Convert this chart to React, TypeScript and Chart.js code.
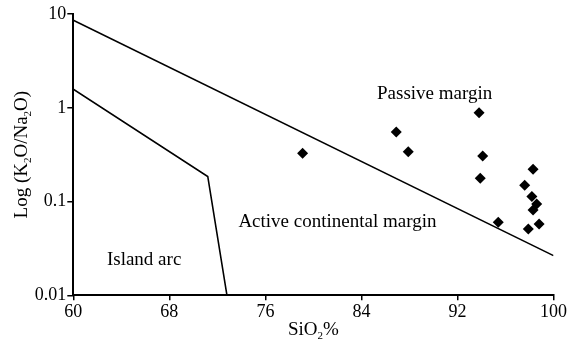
import React, { useEffect, useRef } from 'react';
import { Chart, registerables } from 'chart.js';

Chart.register(...registerables);

const xTicks = [60, 68, 76, 84, 92, 100];
const yTicks = [0.01, 0.1, 1, 10];
const yTickLabels = ['0.01', '0.1', '1', '10'];

const upperLineX = [60, 100];
const upperLineY = [8.6, 0.0265];
const lowerLineX = [60, 71.2, 72.8];
const lowerLineY = [1.58, 0.185, 0.01];

const sampleSiO2 = [79.1, 86.9, 87.9, 93.8, 94.1, 93.9, 95.4, 98.3, 97.6, 98.2, 98.6, 98.3, 97.9, 98.8];
const sampleRatio = [0.327, 0.552, 0.34, 0.887, 0.306, 0.177, 0.06, 0.221, 0.149, 0.113, 0.094, 0.081, 0.051, 0.0576];

const regionNames = ['Passive margin', 'Active continental margin', 'Island arc'];
const regionX = [90.1, 82.0, 65.9];
const regionY = [1.4, 0.061, 0.0238];

const FONT = '"Liberation Serif", "Times New Roman", serif';

type Part = { t: string; sub?: boolean };

function drawRich(ctx: CanvasRenderingContext2D, parts: Part[], cx: number, cy: number, size: number) {
  const subSize = Math.round(size * 0.6);
  let total = 0;
  const widths = parts.map((p) => {
    ctx.font = `${p.sub ? subSize : size}px ${FONT}`;
    const w = ctx.measureText(p.t).width;
    total += w;
    return w;
  });
  let x = cx - total / 2;
  ctx.textAlign = 'left';
  ctx.textBaseline = 'middle';
  parts.forEach((p, i) => {
    ctx.font = `${p.sub ? subSize : size}px ${FONT}`;
    ctx.fillText(p.t, x, p.sub ? cy + size * 0.3 : cy);
    x += widths[i];
  });
}

const labelsPlugin = {
  id: 'labelsPlugin',
  afterDraw(chart: any) {
    const ctx: CanvasRenderingContext2D = chart.ctx;
    const xs = chart.scales.x;
    const ys = chart.scales.y;
    const area = chart.chartArea;
    ctx.save();
    ctx.fillStyle = '#000';
    ctx.font = `19px ${FONT}`;
    ctx.textAlign = 'center';
    ctx.textBaseline = 'middle';
    regionNames.forEach((n, i) => {
      ctx.fillText(n, xs.getPixelForValue(regionX[i]), ys.getPixelForValue(regionY[i]));
    });
    drawRich(ctx, [{ t: 'SiO' }, { t: '2', sub: true }, { t: '%' }], (area.left + area.right) / 2, 330, 19);
    ctx.save();
    ctx.translate(22, (area.top + area.bottom) / 2);
    ctx.rotate(-Math.PI / 2);
    drawRich(
      ctx,
      [{ t: 'Log (K' }, { t: '2', sub: true }, { t: 'O/Na' }, { t: '2', sub: true }, { t: 'O)' }],
      0,
      0,
      19
    );
    ctx.restore();
    ctx.restore();
  },
};

export default function App() {
  const ref = useRef<HTMLCanvasElement | null>(null);
  useEffect(() => {
    if (!ref.current) return;
    const chart = new Chart(ref.current, {
      type: 'scatter',
      data: {
        datasets: [
          {
            data: upperLineX.map((x, i) => ({ x, y: upperLineY[i] })),
            showLine: true,
            borderColor: '#000',
            borderWidth: 1.6,
            pointRadius: 0,
          },
          {
            data: lowerLineX.map((x, i) => ({ x, y: lowerLineY[i] })),
            showLine: true,
            borderColor: '#000',
            borderWidth: 1.6,
            pointRadius: 0,
          },
          {
            data: sampleSiO2.map((x, i) => ({ x, y: sampleRatio[i] })),
            pointStyle: 'rectRot',
            pointRadius: 5.5,
            backgroundColor: '#000',
            borderColor: '#000',
            borderWidth: 0,
          },
        ],
      },
      options: {
        animation: false,
        responsive: true,
        maintainAspectRatio: false,
        layout: { padding: { top: 14, right: 16.5, left: 0, bottom: 0 } },
        plugins: { legend: { display: false }, tooltip: { enabled: false }, title: { display: false } },
        scales: {
          x: {
            type: 'linear',
            min: 60,
            max: 100,
            afterBuildTicks: (s: any) => {
              s.ticks = xTicks.map((v) => ({ value: v }));
            },
            afterFit: (s: any) => {
              s.height = 47.7;
            },
            ticks: {
              color: '#000',
              font: { family: FONT, size: 18 },
              padding: 1,
              maxRotation: 0,
              callback: (v: any) => String(v),
            },
            grid: { drawOnChartArea: false, drawTicks: true, tickLength: 5, color: '#000', lineWidth: 1.5 },
            border: { display: true, color: '#000', width: 2 },
          },
          y: {
            type: 'logarithmic',
            min: 0.01,
            max: 10,
            afterBuildTicks: (s: any) => {
              s.ticks = yTicks.map((v) => ({ value: v }));
            },
            afterFit: (s: any) => {
              s.width = 73.3;
            },
            ticks: {
              color: '#000',
              font: { family: FONT, size: 18 },
              padding: 1,
              callback: (v: any) => {
                const i = yTicks.indexOf(Number(v));
                return i >= 0 ? yTickLabels[i] : '';
              },
            },
            grid: { drawOnChartArea: false, drawTicks: true, tickLength: 6, color: '#000', lineWidth: 1.5 },
            border: { display: true, color: '#000', width: 2 },
          },
        },
      },
      plugins: [labelsPlugin],
    } as any);
    return () => chart.destroy();
  }, []);
  return (
    <div style={{ position: 'fixed', left: 0, top: 0, width: 570, height: 343, background: '#fff' }}>
      <canvas ref={ref} />
    </div>
  );
}
